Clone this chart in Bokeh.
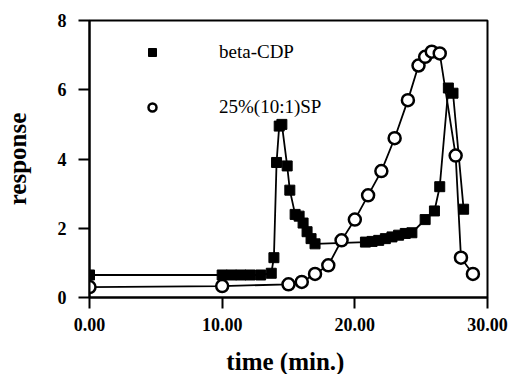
from bokeh.plotting import figure
from bokeh.models import Range1d, FixedTicker, NumeralTickFormatter, Legend, LegendItem
from bokeh.embed import file_html
from bokeh.resources import INLINE

# beta-CDP (filled squares)
cdp_t = [0, 10, 10.7, 11.4, 12.1, 12.9, 13.7, 13.9, 14.1, 14.3, 14.5, 14.9, 15.1,
         15.5, 15.8, 16.1, 16.4, 16.7, 17.0, 20.8, 21.3, 21.8, 22.3, 22.8, 23.3,
         23.8, 24.3, 25.3, 26.0, 26.4, 27.05, 27.4, 28.2]
cdp_v = [0.65, 0.65, 0.65, 0.65, 0.65, 0.65, 0.7, 1.15, 3.9, 4.95, 5.0, 3.8, 3.1,
         2.4, 2.35, 2.15, 1.9, 1.7, 1.55, 1.6, 1.62, 1.65, 1.7, 1.75, 1.8,
         1.85, 1.87, 2.25, 2.5, 3.2, 6.05, 5.9, 2.55]

# 25%(10:1)SP (open circles)
sp_t = [0, 10, 15, 16, 17, 18, 19, 20, 21, 22, 23, 24, 24.8, 25.3, 25.8, 26.4, 27.6, 28.0, 28.9]
sp_v = [0.3, 0.33, 0.38, 0.45, 0.68, 0.93, 1.65, 2.25, 2.95, 3.65, 4.6, 5.7, 6.7, 6.95,
        7.1, 7.05, 4.1, 1.15, 0.68]

x_ticks = [0, 10, 20, 30]
y_ticks = [0, 2, 4, 6, 8]
series_names = ["beta-CDP", "25%(10:1)SP"]

FONT = "Liberation Serif"

p = figure(width=508, height=366, output_backend="svg", toolbar_location=None,
           x_range=Range1d(0, 30), y_range=Range1d(0, 8),
           min_border_left=86, min_border_right=24, min_border_top=20, min_border_bottom=69,
           frame_width=398, frame_height=277)

p.xgrid.visible = False
p.ygrid.visible = False
p.outline_line_color = "black"
p.outline_line_width = 2
p.background_fill_color = "white"
p.border_fill_color = "white"

for ax in (p.xaxis[0], p.yaxis[0]):
    ax.axis_line_width = 2
    ax.major_tick_line_width = 2
    ax.major_tick_in = 0
    ax.major_tick_out = 11
    ax.minor_tick_line_color = None
    ax.major_label_text_font = FONT
    ax.major_label_text_font_style = "bold"
    ax.major_label_text_font_size = "18px"
    ax.major_label_text_color = "black"
    ax.axis_label_text_font = FONT
    ax.axis_label_text_font_style = "bold"
    ax.axis_label_text_font_size = "25px"
    ax.axis_label_text_color = "black"

p.xaxis.ticker = FixedTicker(ticks=x_ticks)
p.yaxis.ticker = FixedTicker(ticks=y_ticks)
p.xaxis.formatter = NumeralTickFormatter(format="0.00")
p.yaxis.formatter = NumeralTickFormatter(format="0")
p.xaxis.major_label_standoff = 9
p.yaxis.major_label_standoff = 12
p.xaxis.axis_label = "time  (min.)"
p.yaxis.axis_label = "response"
p.xaxis.axis_label_standoff = 14
p.yaxis.axis_label_standoff = 24

p.line(cdp_t, cdp_v, line_color="black", line_width=1.8)
p.line(sp_t, sp_v, line_color="black", line_width=1.8)
r_sq = p.scatter(cdp_t, cdp_v, marker="square", size=10, fill_color="black", line_color="black")
r_ci = p.scatter(sp_t, sp_v, marker="circle", size=12, fill_color="white", line_color="black",
                 line_width=2.5)

legend = Legend(items=[LegendItem(label=series_names[0], renderers=[r_sq]),
                       LegendItem(label=series_names[1], renderers=[r_ci])],
                location=(53, 179), padding=0, margin=0, spacing=33,
                glyph_width=20, glyph_height=20, label_height=20,
                label_standoff=57, border_line_alpha=0, background_fill_alpha=0,
                label_text_font=FONT, label_text_font_size="19px",
                label_text_color="black")
p.add_layout(legend, "center")

open("out.html", "w").write(file_html(p, INLINE))
